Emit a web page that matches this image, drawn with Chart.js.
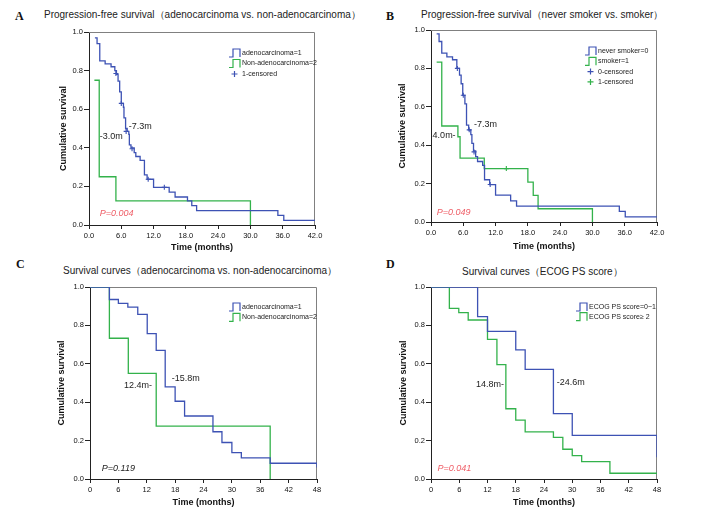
<!DOCTYPE html>
<html>
<head>
<meta charset="utf-8">
<script src="https://cdn.jsdelivr.net/npm/chart.js@4.4.0/dist/chart.umd.min.js"></script>
<style>
    body { margin: 0; background: #fff; width: 708px; height: 513px; position: relative; overflow: hidden; font-family: Arial, "Liberation Sans", sans-serif; }
    .panel { position: absolute; width: 354px; height: 256px; }
    .letter { position: absolute; font: bold 12px/12px "Times New Roman", "Liberation Serif", serif; color: #111; }
    .title { position: absolute; font-size: 10px; line-height: 12px; color: #222; white-space: nowrap; }
</style>
</head>
<body>
<div class="letter" style="left:15px;top:10px">A</div>
<div class="title" style="left:44px;top:9px">Progression-free survival（adenocarcinoma vs. non-adenocarcinoma）</div>
<div class="letter" style="left:386px;top:10px">B</div>
<div class="title" style="left:421px;top:9px">Progression-free survival（never smoker vs. smoker）</div>
<div class="letter" style="left:16px;top:258px">C</div>
<div class="title" style="left:63px;top:265px">Survival curves（adenocarcinoma vs. non-adenocarcinoma）</div>
<div class="letter" style="left:386px;top:258px">D</div>
<div class="title" style="left:462px;top:266px">Survival curves（ECOG PS score）</div>

<div class="panel" style="left:0;top:0"><canvas id="chartA" width="354" height="256"></canvas></div>
<div class="panel" style="left:354px;top:0"><canvas id="chartB" width="354" height="256"></canvas></div>
<div class="panel" style="left:0;top:256px"><canvas id="chartC" width="354" height="256"></canvas></div>
<div class="panel" style="left:354px;top:256px"><canvas id="chartD" width="354" height="256"></canvas></div>

<script>
// ticks
const pfsMonthTicks = [0, 6, 12, 18, 24, 30, 36, 42];
const osMonthTicks = [0, 6, 12, 18, 24, 30, 36, 42, 48];
const survivalTicks = [0, 0.2, 0.4, 0.6, 0.8, 1.0];

// A: PFS, adenocarcinoma vs non-adenocarcinoma
const pfsAdenoTime = [1.1, 1.5, 2.0, 3.0, 4.1, 4.8, 5.1, 5.4, 5.7, 6.0, 6.4, 6.5, 6.8, 7.1, 7.4, 7.5, 7.8, 8.4, 8.7, 9.5, 10.3, 10.8, 12.0, 14.9, 16.0, 18.3, 19.1, 20.0, 35.1, 36.2, 42.0];
const pfsAdenoSurv = [0.97, 0.94, 0.85, 0.835, 0.82, 0.80, 0.78, 0.745, 0.69, 0.63, 0.61, 0.555, 0.50, 0.485, 0.47, 0.415, 0.40, 0.375, 0.355, 0.335, 0.26, 0.237, 0.195, 0.17, 0.145, 0.125, 0.10, 0.074, 0.05, 0.024, 0.024];
const pfsAdenoCensorTime = [5.0, 6.0, 6.9, 8.0, 11.0, 14.0];
const pfsAdenoCensorSurv = [0.785, 0.63, 0.485, 0.395, 0.237, 0.195];
const pfsNonAdenoTime = [1.0, 1.9, 5.0, 30.0];
const pfsNonAdenoSurv = [0.75, 0.25, 0.125, 0];

// B: PFS, never smoker vs smoker
const pfsNeverTime = [1.05, 1.5, 2.0, 2.95, 4.0, 4.8, 5.3, 5.6, 5.9, 6.3, 6.6, 7.0, 7.4, 7.6, 7.9, 8.3, 8.65, 9.6, 9.95, 10.9, 12.0, 14.8, 15.9, 35.0, 36.1, 42.0];
const pfsNeverSurv = [0.98, 0.94, 0.88, 0.86, 0.845, 0.80, 0.765, 0.72, 0.66, 0.615, 0.505, 0.48, 0.455, 0.41, 0.37, 0.34, 0.315, 0.295, 0.22, 0.195, 0.14, 0.11, 0.083, 0.055, 0.027, 0.027];
const pfsNeverCensorTime = [4.9, 6.0, 7.1, 8.0, 11.0];
const pfsNeverCensorSurv = [0.80, 0.66, 0.48, 0.365, 0.195];
const pfsSmokerTime = [1.05, 2.0, 5.0, 5.4, 9.9, 18.0, 19.0, 19.9, 30.0];
const pfsSmokerSurv = [0.833, 0.5, 0.444, 0.333, 0.278, 0.208, 0.139, 0.069, 0];
const pfsSmokerCensorTime = [14.0];
const pfsSmokerCensorSurv = [0.278];

// C: OS, adenocarcinoma vs non-adenocarcinoma
const osAdenoTime = [0, 4.1, 6.0, 8.0, 10.1, 12.1, 14.0, 15.9, 18.0, 20.0, 26.0, 27.9, 30.0, 32.0, 38.1, 48.0];
const osAdenoSurv = [1, 0.935, 0.915, 0.895, 0.857, 0.757, 0.67, 0.48, 0.405, 0.328, 0.246, 0.19, 0.137, 0.11, 0.082, 0.06];
const osNonAdenoTime = [0, 4.1, 8.1, 14.0, 38.1];
const osNonAdenoSurv = [1, 0.733, 0.55, 0.275, 0];

// D: OS, ECOG PS
const osPs01Time = [0, 9.9, 12.0, 18.0, 20.0, 26.0, 30.0, 48.0];
const osPs01Surv = [1, 0.846, 0.769, 0.673, 0.571, 0.34, 0.227, 0.113];
const osPs2Time = [0, 3.9, 5.9, 7.9, 12.0, 14.0, 15.9, 18.0, 20.0, 26.0, 28.0, 30.0, 32.0, 38.0, 48.0];
const osPs2Surv = [1, 0.889, 0.867, 0.828, 0.727, 0.596, 0.366, 0.307, 0.245, 0.217, 0.155, 0.122, 0.091, 0.03, 0.03];

const blue = '#3d52b4';
const green = '#33b24b';
const red = '#ef5e67';
const ink = '#222';

function pts(times, survs) {
    return times.map((t, i) => ({ x: t, y: survs[i] }));
}

function curve(times, survs, color) {
    return { data: pts(times, survs), borderColor: color, borderWidth: 1.3, stepped: true, pointRadius: 0, fill: false };
}

function censored(times, survs, color) {
    return { data: pts(times, survs), borderColor: color, backgroundColor: color, showLine: false, pointStyle: 'cross', pointRadius: 2.5, borderWidth: 1.1 };
}

// frame, notes and the step-style legend
const kmDecor = {
    id: 'kmDecor',
    beforeDatasetsDraw(chart) {
        const { ctx, chartArea: a } = chart;
        ctx.save();
        ctx.strokeStyle = '#808080';
        ctx.lineWidth = 1;
        ctx.beginPath();
        ctx.moveTo(a.left, a.top + 0.5);
        ctx.lineTo(a.right - 0.5, a.top + 0.5);
        ctx.lineTo(a.right - 0.5, a.bottom);
        ctx.stroke();
        ctx.restore();
    },
    afterDatasetsDraw(chart, args, opts) {
        const { ctx, scales: { x, y } } = chart;
        ctx.save();
        ctx.textBaseline = 'middle';
        ctx.textAlign = 'left';
        (opts.notes || []).forEach(n => {
            ctx.font = n.font;
            ctx.fillStyle = n.color;
            ctx.fillText(n.text, x.getPixelForValue(n.x), y.getPixelForValue(n.y));
        });
        const lg = opts.legend;
        if (lg) {
            ctx.font = '7px Arial, "Liberation Sans", sans-serif';
            lg.items.forEach((item, i) => {
                const cy = lg.y + i * lg.step;
                const x0 = lg.x;
                ctx.strokeStyle = item.color;
                ctx.lineWidth = 1.2;
                ctx.beginPath();
                if (item.kind === 'step') {
                    ctx.moveTo(x0, cy + 4);
                    ctx.lineTo(x0 + 4, cy + 4);
                    ctx.lineTo(x0 + 4, cy - 4);
                    ctx.lineTo(x0 + 11, cy - 4);
                    ctx.lineTo(x0 + 11, cy + 4);
                } else {
                    ctx.moveTo(x0 + 2.5, cy);
                    ctx.lineTo(x0 + 8.5, cy);
                    ctx.moveTo(x0 + 5.5, cy - 3);
                    ctx.lineTo(x0 + 5.5, cy + 3);
                }
                ctx.stroke();
                ctx.fillStyle = ink;
                ctx.fillText(item.label, x0 + 13, cy);
            });
        }
        ctx.restore();
    }
};

function buildChart(id, cfg) {
    const tickFont = { family: 'Arial, "Liberation Sans", sans-serif', size: 7.5 };
    const titleFont = { family: 'Arial, "Liberation Sans", sans-serif', size: 9, weight: 'bold' };
    new Chart(document.getElementById(id), {
        type: 'line',
        data: { datasets: cfg.datasets },
        options: {
            responsive: false,
            animation: false,
            events: [],
            layout: { padding: { left: 0, top: cfg.area.top, right: 354 - cfg.area.right, bottom: 0 } },
            plugins: {
                legend: { display: false },
                tooltip: { enabled: false },
                kmDecor: { notes: cfg.notes, legend: cfg.legend }
            },
            scales: {
                x: {
                    type: 'linear',
                    min: 0,
                    max: cfg.xTicks[cfg.xTicks.length - 1],
                    afterBuildTicks: s => { s.ticks = cfg.xTicks.map(v => ({ value: v })); },
                    afterFit: s => { s.height = 256 - cfg.area.bottom; },
                    ticks: { font: tickFont, color: '#111', padding: 2, maxRotation: 0, autoSkip: false, callback: cfg.xLabel },
                    grid: { drawOnChartArea: false, drawTicks: true, tickLength: 4, color: ink },
                    border: { color: ink, width: 1 },
                    title: { display: true, text: 'Time (months)', font: titleFont, color: '#111', padding: { top: 0, bottom: cfg.xTitlePad } }
                },
                y: {
                    type: 'linear',
                    min: 0,
                    max: 1,
                    afterBuildTicks: s => { s.ticks = survivalTicks.map(v => ({ value: v })); },
                    afterFit: s => { s.width = cfg.area.left; },
                    ticks: { font: tickFont, color: '#111', padding: 1, callback: v => v.toFixed(1) },
                    grid: { drawOnChartArea: false, drawTicks: true, tickLength: 5, color: ink },
                    border: { color: ink, width: 1 },
                    title: { display: true, text: 'Cumulative survival', font: titleFont, color: '#111', padding: { top: cfg.yTitlePad, bottom: 0 } }
                }
            }
        },
        plugins: [kmDecor]
    });
}

const noteFont = '9px Arial, "Liberation Sans", sans-serif';
const pFont = 'italic 9px Arial, "Liberation Sans", sans-serif';

buildChart('chartA', {
    area: { left: 89, right: 315, top: 32, bottom: 225 },
    xTicks: pfsMonthTicks,
    xLabel: v => v.toFixed(1),
    xTitlePad: 2.6,
    yTitlePad: 58.6,
    datasets: [
        curve(pfsAdenoTime, pfsAdenoSurv, blue),
        curve(pfsNonAdenoTime, pfsNonAdenoSurv, green),
        censored(pfsAdenoCensorTime, pfsAdenoCensorSurv, blue)
    ],
    notes: [
        { text: '-7.3m', x: 7.4, y: 0.51, font: noteFont, color: ink },
        { text: '-3.0m', x: 2.0, y: 0.46, font: noteFont, color: ink },
        { text: 'P=0.004', x: 2.0, y: 0.06, font: pFont, color: red }
    ],
    legend: { x: 229, y: 53, step: 10.5, items: [
        { label: 'adenocarcinoma=1', color: blue, kind: 'step' },
        { label: 'Non-adenocarcinoma=2', color: green, kind: 'step' },
        { label: '1-censored', color: blue, kind: 'cross' }
    ] }
});

buildChart('chartB', {
    area: { left: 77, right: 303, top: 30, bottom: 222 },
    xTicks: pfsMonthTicks,
    xLabel: v => v.toFixed(1),
    xTitlePad: 3.6,
    yTitlePad: 43.6,
    datasets: [
        curve(pfsNeverTime, pfsNeverSurv, blue),
        curve(pfsSmokerTime, pfsSmokerSurv, green),
        censored(pfsNeverCensorTime, pfsNeverCensorSurv, blue),
        censored(pfsSmokerCensorTime, pfsSmokerCensorSurv, green)
    ],
    notes: [
        { text: '-7.3m', x: 8.0, y: 0.51, font: noteFont, color: ink },
        { text: '4.0m-', x: 0.3, y: 0.45, font: noteFont, color: ink },
        { text: 'P=0.049', x: 1.05, y: 0.05, font: pFont, color: red }
    ],
    legend: { x: 231, y: 51, step: 10.3, items: [
        { label: 'never smoker=0', color: blue, kind: 'step' },
        { label: 'smoker=1', color: green, kind: 'step' },
        { label: '0-censored', color: blue, kind: 'cross' },
        { label: '1-censored', color: green, kind: 'cross' }
    ] }
});

buildChart('chartC', {
    area: { left: 90, right: 317, top: 31, bottom: 223 },
    xTicks: osMonthTicks,
    xLabel: v => String(v),
    xTitlePad: 3.6,
    yTitlePad: 56.6,
    datasets: [
        curve(osAdenoTime, osAdenoSurv, blue),
        curve(osNonAdenoTime, osNonAdenoSurv, green)
    ],
    notes: [
        { text: '12.4m-', x: 7.2, y: 0.488, font: noteFont, color: ink },
        { text: '-15.8m', x: 17.3, y: 0.523, font: noteFont, color: ink },
        { text: 'P=0.119', x: 2.5, y: 0.054, font: pFont, color: ink }
    ],
    legend: { x: 229, y: 51, step: 10.3, items: [
        { label: 'adenocarcinoma=1', color: blue, kind: 'step' },
        { label: 'Non-adenocarcinoma=2', color: green, kind: 'step' }
    ] }
});

buildChart('chartD', {
    area: { left: 77, right: 303, top: 31, bottom: 223 },
    xTicks: osMonthTicks,
    xLabel: v => String(v),
    xTitlePad: 3.6,
    yTitlePad: 44.6,
    datasets: [
        curve(osPs01Time, osPs01Surv, blue),
        curve(osPs2Time, osPs2Surv, green)
    ],
    notes: [
        { text: '14.8m-', x: 9.55, y: 0.49, font: noteFont, color: ink },
        { text: '-24.6m', x: 26.7, y: 0.5, font: noteFont, color: ink },
        { text: 'P=0.041', x: 1.4, y: 0.054, font: pFont, color: red }
    ],
    legend: { x: 222, y: 51, step: 9.7, items: [
        { label: 'ECOG PS score=0~1', color: blue, kind: 'step' },
        { label: 'ECOG PS score≥ 2', color: green, kind: 'step' }
    ] }
});
</script>
</body>
</html>
